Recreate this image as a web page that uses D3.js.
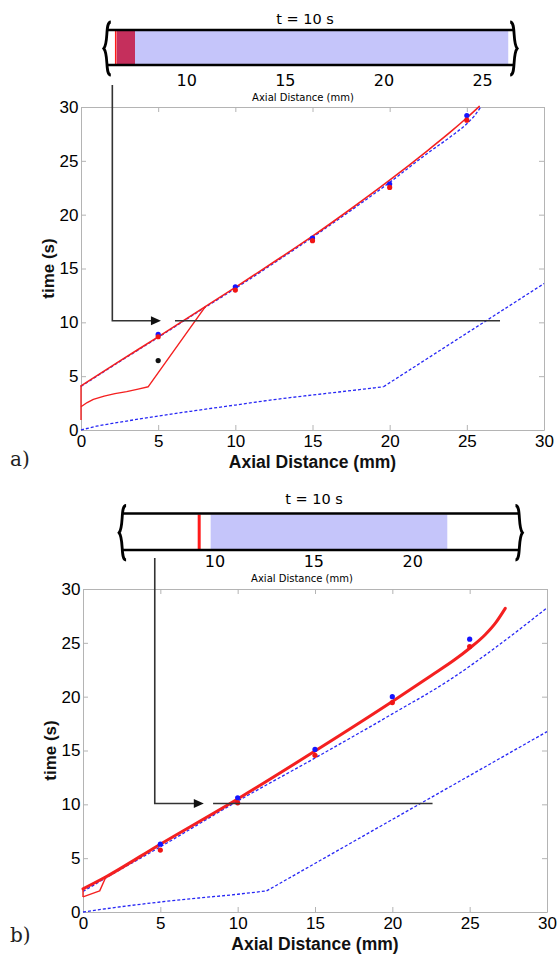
<!DOCTYPE html>
<html>
<head>
<meta charset="utf-8">
<script src="https://cdn.jsdelivr.net/npm/d3@7"></script>
<style>
  body { margin: 0; background: #fff; }
  svg { display: block; }
</style>
</head>
<body>
<svg id="fig" width="558" height="954"></svg>
<script>
// ---- shared axis ticks ----
const xTicks = [0, 5, 10, 15, 20, 25, 30];
const yTicks = [0, 5, 10, 15, 20, 25, 30];
const measureX = [5, 10, 15, 20, 25];
const tubeTime = 10;

// ---- panel a ----
const aRedEdgeT = [0.93, 4.1];                 // red trace along x = 0
const aRedUpX = [0, 2.5, 5, 7.5, 10, 12.5, 15, 17.5, 20, 22.5, 24, 25, 25.8];
const aRedUpT = [4.1, 6.4, 8.65, 10.95, 13.25, 15.6, 18.0, 20.55, 23.2, 26.0, 27.75, 29.0, 30.05];
const aRedLowX = [0, 0.4, 0.8, 1.5, 2.2, 2.96, 3.7, 4.36, 8.08];
const aRedLowT = [2.16, 2.55, 2.85, 3.15, 3.38, 3.56, 3.8, 4.02, 11.5];
const aBlueUpX = [0, 2.5, 5, 7.5, 10, 12.5, 15, 17.5, 20, 22.5, 24, 25, 25.5, 25.9];
const aBlueUpT = [4.05, 6.35, 8.6, 10.9, 13.15, 15.5, 17.9, 20.4, 23.0, 25.75, 27.3, 28.45, 29.2, 30.0];
const aBlueLowX = [0, 1, 2.5, 5, 7.5, 10, 12.5, 15, 17.5, 19.6, 30];
const aBlueLowT = [0, 0.35, 0.72, 1.3, 1.82, 2.32, 2.82, 3.25, 3.66, 4.02, 13.6];
const aBlueDots = [8.88, 13.3, 17.83, 22.84, 29.2];
const aRedDots = [8.66, 13.0, 17.58, 22.53, 28.78];
const aBlackDot = [5, 6.45];
// pointer from the tube down to the time axis: [x of drop, tip x, line start, line end], time
const aArrowX = [2.03, 5.18, 6.09, 27.15];
const aArrowT = 10.15;
// tube contents at t = 10 s (mm)
const aTubeTicks = [10, 15, 20, 25];
const aTubeExtent = [5.95, 26.6];
const aTubeFront = 6.4;
const aTubeDark = [6.45, 7.38];
const aTubeBlue = [7.38, 26.3];

// ---- panel b ----
const bRedEdgeT = [1.4, 2.15];
const bRedUpX = [0, 1.4, 5, 10, 15, 20, 22.5, 24, 25, 26, 26.7, 27.3];
const bRedUpT = [2.15, 3.2, 6.3, 10.5, 14.95, 19.55, 21.95, 23.4, 24.5, 25.75, 26.9, 28.2];
const bRedLowX = [0, 1.08, 1.45];
const bRedLowT = [1.4, 1.96, 3.15];
const bBlueUpX = [0, 1.4, 5, 10, 15, 20, 23.7, 26.8, 30];
const bBlueUpT = [1.9, 3.1, 6.05, 10.3, 14.3, 18.4, 21.55, 24.7, 28.25];
const bBlueLowX = [0, 2.5, 5, 7.5, 10, 11.87, 30];
const bBlueLowT = [0, 0.5, 0.93, 1.3, 1.65, 1.96, 16.75];
const bBlueDots = [6.3, 10.6, 15.1, 20.0, 25.34];
const bRedDots = [5.75, 10.14, 14.55, 19.45, 24.65];
const bArrowX = [4.64, 7.81, 8.41, 22.6];
const bArrowT = 10.08;
const bTubeTicks = [10, 15, 20];
const bTubeExtent = [5.3, 25.4];
const bTubeFront = 9.2;
const bTubeBlue = [9.78, 21.75];

const RED = "#f42020";
const BLUE = "#2727f5";
const AXIS = "#b4b4b4";
const SANS = "'Liberation Sans', Arial, sans-serif";
const TUBEFONT = "'DejaVu Sans', Verdana, sans-serif";

const svg = d3.select("#fig");

function zip(xs, ts) { return xs.map((v, i) => [v, ts[i]]); }

// wavy break mark at the open ends of the tube
function breakPath(cx, y0, y1, dir) {
  const ym = (y0 + y1) / 2;
  const k = dir; // +1 bulges left, -1 bulges right
  return `M${cx + 4 * k},${y0} C${cx - 2 * k},${y0} ${cx + 2 * k},${ym - 6} ${cx - 3 * k},${ym}` +
         ` C${cx + 2 * k},${ym + 6} ${cx - 2 * k},${y1} ${cx + 4 * k},${y1}`;
}

function drawTube(L, T) {
  const g = svg.append("g");
  const s = d3.scaleLinear().domain(T.scaleDomain).range(T.scaleRange);
  const xl = s(T.extent[0]), xr = s(T.extent[1]);
  // fills
  if (T.dark) {
    g.append("rect").attr("x", s(T.dark[0])).attr("y", L.top + 1)
      .attr("width", s(T.dark[1]) - s(T.dark[0])).attr("height", L.bottom - L.top - 2)
      .attr("fill", "#c52f5c");
  }
  g.append("rect").attr("x", s(T.blue[0])).attr("y", L.top + 1)
    .attr("width", s(T.blue[1]) - s(T.blue[0])).attr("height", L.bottom - L.top - 2)
    .attr("fill", "#c5c5fa");
  g.append("line").attr("x1", s(T.front)).attr("x2", s(T.front))
    .attr("y1", L.top + 1).attr("y2", L.bottom - 1)
    .attr("stroke", "#ff1a1a").attr("stroke-width", T.frontWidth);
  // walls
  [L.top, L.bottom].forEach(yy => {
    g.append("line").attr("x1", xl).attr("x2", xr).attr("y1", yy).attr("y2", yy)
      .attr("stroke", "#000").attr("stroke-width", 2.4);
  });
  g.append("path").attr("d", breakPath(xl, L.top - 8, L.bottom + 10, 1))
    .attr("fill", "none").attr("stroke", "#000").attr("stroke-width", 2.8);
  g.append("path").attr("d", breakPath(xr, L.top - 8, L.bottom + 10, -1))
    .attr("fill", "none").attr("stroke", "#000").attr("stroke-width", 2.8);
  // text
  g.append("text").attr("x", L.titleX).attr("y", L.titleY)
    .attr("text-anchor", "middle").attr("font-family", TUBEFONT).attr("font-size", 14.5)
    .attr("fill", "#000").text(`t = ${tubeTime} s`);
  g.selectAll(".tt").data(T.ticks).join("text")
    .attr("x", d => s(d)).attr("y", L.tickY)
    .attr("text-anchor", "middle").attr("font-family", TUBEFONT).attr("font-size", 16)
    .attr("fill", "#000").text(d => d);
  g.append("text").attr("x", L.labelX).attr("y", L.labelY)
    .attr("text-anchor", "middle").attr("font-family", TUBEFONT).attr("font-size", 10)
    .attr("fill", "#000").text("Axial Distance (mm)");
}

function drawPanel(P, D) {
  const g = svg.append("g");
  const x = d3.scaleLinear().domain([0, 30]).range([P.x0, P.x1]);
  const y = d3.scaleLinear().domain([0, 30]).range([P.y0, P.y1]);

  const styleAxis = sel => {
    sel.select(".domain").attr("stroke", AXIS).attr("stroke-width", 1);
    sel.selectAll(".tick line").attr("stroke", AXIS).attr("stroke-width", 1);
    sel.selectAll(".tick text").attr("font-family", SANS).attr("font-size", 17).attr("fill", "#000");
  };
  g.append("g").attr("transform", `translate(0,${P.y0})`)
    .call(d3.axisBottom(x).tickValues(xTicks).tickSize(-5).tickSizeOuter(0).tickPadding(P.xPad))
    .call(styleAxis);
  g.append("g").attr("transform", `translate(${P.x0},0)`)
    .call(d3.axisLeft(y).tickValues(yTicks).tickSize(-5).tickSizeOuter(0).tickPadding(2.5))
    .call(styleAxis);
  g.append("g").attr("transform", `translate(0,${P.y1})`)
    .call(d3.axisTop(x).tickValues(xTicks).tickSize(-5).tickSizeOuter(0).tickFormat(""))
    .call(styleAxis);
  g.append("g").attr("transform", `translate(${P.x1},0)`)
    .call(d3.axisRight(y).tickValues(yTicks).tickSize(-5).tickSizeOuter(0).tickFormat(""))
    .call(styleAxis);

  const plot = g.append("g");
  const lin = d3.line().x(d => x(d[0])).y(d => y(d[1]));
  const smooth = d3.line().x(d => x(d[0])).y(d => y(d[1])).curve(d3.curveMonotoneX);

  // model curves (blue dashed)
  plot.append("path").attr("d", smooth(zip(D.blueLowX, D.blueLowT).slice(0, -1)))
    .attr("fill", "none").attr("stroke", BLUE).attr("stroke-width", 1.3).attr("stroke-dasharray", "3,2");
  plot.append("path").attr("d", lin(zip(D.blueLowX, D.blueLowT).slice(-2)))
    .attr("fill", "none").attr("stroke", BLUE).attr("stroke-width", 1.3).attr("stroke-dasharray", "3,2");
  plot.append("path").attr("d", smooth(zip(D.blueUpX, D.blueUpT)))
    .attr("fill", "none").attr("stroke", BLUE).attr("stroke-width", 1.3).attr("stroke-dasharray", "3,2");

  // red fronts
  plot.append("path").attr("d", lin([[0, D.redEdgeT[0]], [0, D.redEdgeT[1]]]))
    .attr("fill", "none").attr("stroke", RED).attr("stroke-width", 1.4);
  plot.append("path").attr("d", lin(zip(D.redLowX, D.redLowT)))
    .attr("fill", "none").attr("stroke", RED).attr("stroke-width", 1.4).attr("stroke-linejoin", "round");
  plot.append("path").attr("d", smooth(zip(D.redUpX, D.redUpT)))
    .attr("fill", "none").attr("stroke", RED).attr("stroke-width", D.redWidth)
    .attr("stroke-linecap", "round");

  // measured points
  plot.selectAll(".bd").data(D.blueDots).join("circle")
    .attr("cx", (d, i) => x(measureX[i])).attr("cy", d => y(d)).attr("r", 2.6).attr("fill", "#1515ff");
  plot.selectAll(".rd").data(D.redDots).join("circle")
    .attr("cx", (d, i) => x(measureX[i])).attr("cy", d => y(d)).attr("r", 2.6).attr("fill", "#f01515");
  if (D.blackDot) {
    plot.append("circle").attr("cx", x(D.blackDot[0])).attr("cy", y(D.blackDot[1]))
      .attr("r", 2.6).attr("fill", "#111");
  }

  // pointer from the tube snapshot to t = 10 s
  const ay = y(D.arrowT);
  const ax = D.arrowX.map(x);
  g.append("path").attr("d", `M${ax[0]},${P.arrowTop} L${ax[0]},${ay} L${ax[1] - 8},${ay}`)
    .attr("fill", "none").attr("stroke", "#333").attr("stroke-width", 1.6);
  g.append("path").attr("d", `M${ax[1]},${ay} L${ax[1] - 10},${ay - 4.5} L${ax[1] - 10},${ay + 4.5} Z`)
    .attr("fill", "#111");
  g.append("line").attr("x1", ax[2]).attr("x2", ax[3]).attr("y1", ay).attr("y2", ay)
    .attr("stroke", "#333").attr("stroke-width", 1.6);

  // titles
  g.append("text").attr("transform", `translate(${P.yLabelX},${(P.y0 + P.y1) / 2}) rotate(-90)`)
    .attr("text-anchor", "middle").attr("font-family", SANS).attr("font-weight", "bold")
    .attr("font-size", 17).attr("fill", "#111").text("time (s)");
  g.append("text").attr("x", (P.x0 + P.x1) / 2).attr("y", P.xLabelY)
    .attr("text-anchor", "middle").attr("font-family", SANS).attr("font-weight", "bold")
    .attr("font-size", 17.5).attr("fill", "#111").text("Axial Distance (mm)");
  g.append("text").attr("x", 10).attr("y", P.tagY)
    .attr("font-family", "'DejaVu Serif', 'Liberation Serif', serif").attr("font-size", 20)
    .attr("fill", "#222").text(P.tag);
}

// ---- panel a ----
drawTube(
  { top: 30, bottom: 65, titleX: 305, titleY: 24, tickY: 86, labelX: 303, labelY: 100.5 },
  { scaleDomain: [10, 25], scaleRange: [186.7, 482.6], extent: aTubeExtent, ticks: aTubeTicks,
    front: aTubeFront, frontWidth: 1.5, dark: aTubeDark, blue: aTubeBlue }
);
drawPanel(
  { x0: 81, x1: 544, y0: 430, y1: 107, arrowTop: 85, yLabelX: 54, xLabelY: 467.5, xPad: 5, tag: "a)", tagY: 466 },
  { redEdgeT: aRedEdgeT, redUpX: aRedUpX, redUpT: aRedUpT, redLowX: aRedLowX, redLowT: aRedLowT,
    blueUpX: aBlueUpX, blueUpT: aBlueUpT, blueLowX: aBlueLowX, blueLowT: aBlueLowT,
    blueDots: aBlueDots, redDots: aRedDots, blackDot: aBlackDot,
    arrowX: aArrowX, arrowT: aArrowT, redWidth: 1.6 }
);

// ---- panel b ----
drawTube(
  { top: 513.5, bottom: 550, titleX: 314, titleY: 504, tickY: 567, labelX: 302, labelY: 581.5 },
  { scaleDomain: [10, 20], scaleRange: [215, 412.7], extent: bTubeExtent, ticks: bTubeTicks,
    front: bTubeFront, frontWidth: 3, dark: null, blue: bTubeBlue }
);
drawPanel(
  { x0: 83, x1: 547, y0: 912, y1: 589, arrowTop: 558, yLabelX: 56, xLabelY: 949.5, xPad: 5, tag: "b)", tagY: 942 },
  { redEdgeT: bRedEdgeT, redUpX: bRedUpX, redUpT: bRedUpT, redLowX: bRedLowX, redLowT: bRedLowT,
    blueUpX: bBlueUpX, blueUpT: bBlueUpT, blueLowX: bBlueLowX, blueLowT: bBlueLowT,
    blueDots: bBlueDots, redDots: bRedDots, blackDot: null,
    arrowX: bArrowX, arrowT: bArrowT, redWidth: 3 }
);
</script>
</body>
</html>
